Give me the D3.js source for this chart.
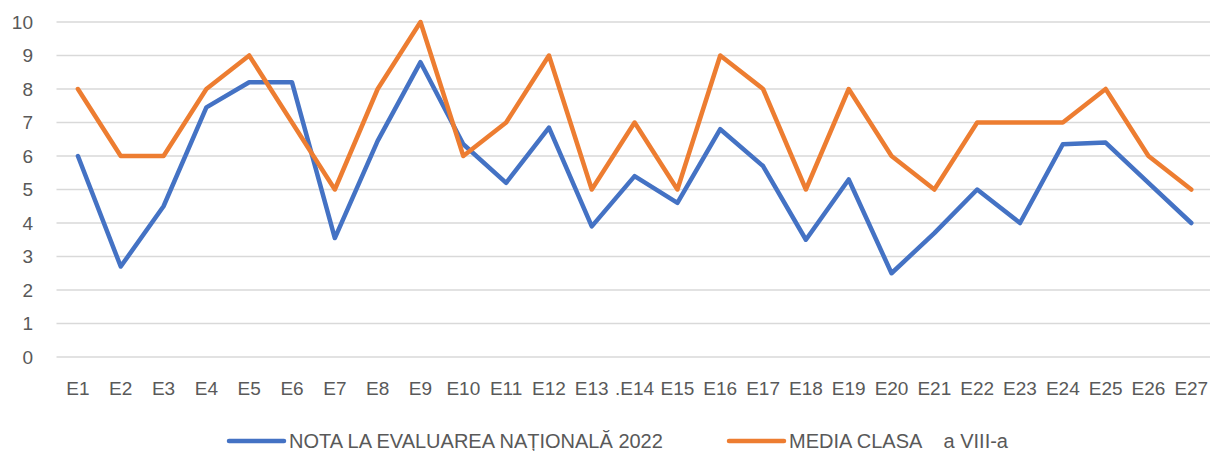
<!DOCTYPE html>
<html>
<head>
<meta charset="utf-8">
<script src="https://cdn.jsdelivr.net/npm/d3@7"></script>
<style>
  html, body { margin:0; padding:0; background:#fff; }
  svg { display:block; font-family:"Liberation Sans", Arial, sans-serif; }
</style>
</head>
<body>
<svg id="chart" width="1210" height="451"></svg>
<script>
// Categories as printed on the axis (".E14" is how the source labels it).
var CATS = ['E1','E2','E3','E4','E5','E6','E7','E8','E9','E10','E11','E12','E13','.E14',
            'E15','E16','E17','E18','E19','E20','E21','E22','E23','E24','E25','E26','E27'];

var NOTA  = [6.0,2.7,4.5,7.45,8.2,8.2,3.55,6.45,8.8,6.35,5.2,6.85,3.9,5.4,
             4.6,6.8,5.7,3.5,5.3,2.5,3.7,5.0,4.0,6.35,6.4,5.2,4.0];
var MEDIA = [8,6,6,8,9,7,5,8,10,6,7,9,5,7,5,9,8,5,8,6,5,7,7,7,8,6,5];

var Y_TICKS = [0,1,2,3,4,5,6,7,8,9,10];

var SERIES = [
  { name:'NOTA LA EVALUAREA NAȚIONALĂ 2022', values:NOTA,  color:'#4472C4', lx:229 },
  { name:'MEDIA CLASA    a VIII-a',          values:MEDIA, color:'#ED7D31', lx:729 }
];

var svg = d3.select('#chart');
var x = d3.scaleBand().domain(CATS).range([56.5, 1212.7]);
var y = d3.scaleLinear().domain([0,10]).range([357, 22]);
var cx = function(c){ return x(c) + x.bandwidth()/2; };

// gridlines + y labels
var gy = svg.append('g');
gy.selectAll('line').data(Y_TICKS).join('line')
  .attr('x1', 56.5).attr('x2', 1210)
  .attr('y1', function(d){ return y(d); }).attr('y2', function(d){ return y(d); })
  .attr('stroke', '#d9d9d9').attr('stroke-width', 1.5);
gy.selectAll('text').data(Y_TICKS).join('text')
  .attr('x', 33).attr('y', function(d){ return y(d); }).attr('dy', '0.36em')
  .attr('text-anchor', 'end').attr('fill', '#595959').attr('font-size', 19)
  .text(function(d){ return d; });

// x labels
svg.append('g').selectAll('text').data(CATS).join('text')
  .attr('x', cx).attr('y', 395)
  .attr('text-anchor', 'middle').attr('fill', '#595959').attr('font-size', 19)
  .text(function(d){ return d; });

// lines
var line = d3.line().x(function(d, i){ return cx(CATS[i]); }).y(function(d){ return y(d); });
svg.append('g').selectAll('path').data(SERIES).join('path')
  .attr('d', function(s){ return line(s.values); })
  .attr('fill', 'none').attr('stroke', function(s){ return s.color; })
  .attr('stroke-width', 4.5).attr('stroke-linejoin', 'round').attr('stroke-linecap', 'round');

// legend
var lg = svg.append('g').selectAll('g').data(SERIES).join('g');
lg.append('line')
  .attr('x1', function(s){ return s.lx; }).attr('x2', function(s){ return s.lx + 55; })
  .attr('y1', 441).attr('y2', 441)
  .attr('stroke', function(s){ return s.color; }).attr('stroke-width', 4.5).attr('stroke-linecap', 'round');
lg.append('text')
  .attr('x', function(s){ return s.lx + 60; }).attr('y', 448)
  .attr('fill', '#595959').attr('font-size', 20)
  .style('white-space', 'pre')
  .text(function(s){ return s.name; });
</script>
</body>
</html>
